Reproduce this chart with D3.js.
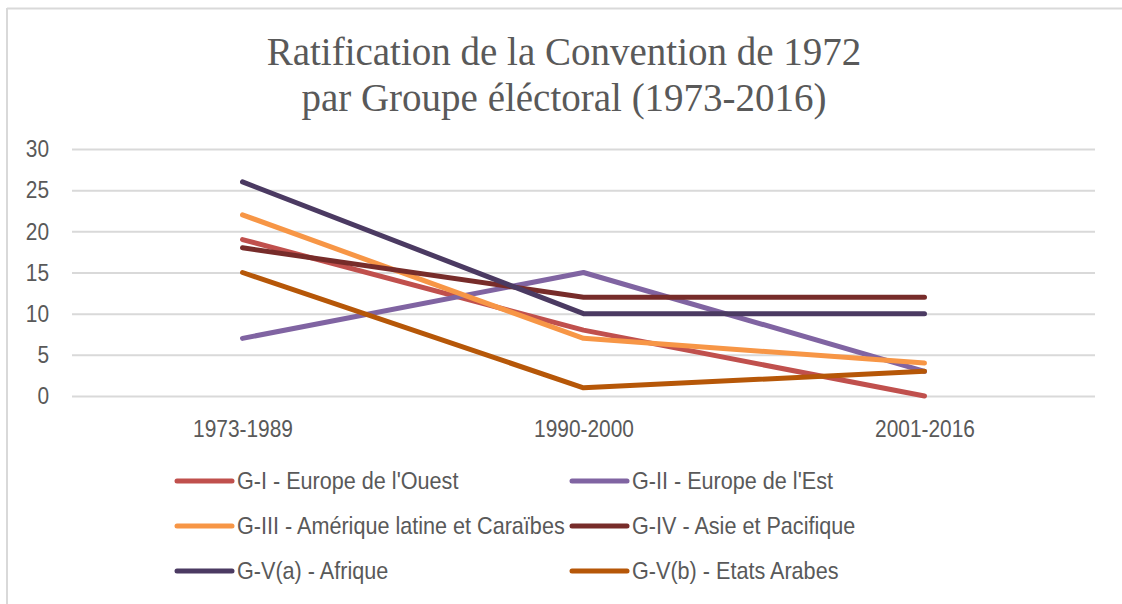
<!DOCTYPE html>
<html><head><meta charset="utf-8">
<script src="https://cdn.jsdelivr.net/npm/d3@7/dist/d3.min.js"></script>
<style>html,body{margin:0;padding:0;background:#fff;}svg{display:block;}</style>
</head><body>
<svg id="chart" width="1122" height="604"></svg>
<script>
const titleLines = ["Ratification de la Convention de 1972", "par Groupe éléctoral (1973-2016)"];
const categories = ["1973-1989", "1990-2000", "2001-2016"];
const seriesNames = ["G-I - Europe de l'Ouest", "G-II - Europe de l'Est", "G-III - Amérique latine et Caraïbes", "G-IV - Asie et Pacifique", "G-V(a) - Afrique", "G-V(b) - Etats Arabes"];
const seriesColors = ["#C0504D", "#8064A2", "#F79646", "#772C2A", "#4B3A62", "#B65708"];
const gI = [19, 8, 0];
const gII = [7, 15, 3];
const gIII = [22, 7, 4];
const gIV = [18, 12, 12];
const gVa = [26, 10, 10];
const gVb = [15, 1, 3];
const yTicks = [0, 5, 10, 15, 20, 25, 30];

const seriesValues = [gI, gII, gIII, gIV, gVa, gVb];
const series = seriesNames.map((n, i) => ({name: n, color: seriesColors[i], values: seriesValues[i]}));

const svg = d3.select("#chart");
const textColor = "#595959";
const sansFont = "'Liberation Sans', Arial, sans-serif";
const sansSize = 24;
const sx = 0.87;    // horizontal condensing of axis label text
const sxLeg = 0.9;  // horizontal condensing of legend text

// outer border (top and left visible)
svg.append("line").attr("x1", 7).attr("x2", 1122).attr("y1", 8.5).attr("y2", 8.5)
  .attr("stroke", "#d9d9d9").attr("stroke-width", 2);
svg.append("line").attr("x1", 7).attr("x2", 7).attr("y1", 8).attr("y2", 604)
  .attr("stroke", "#d9d9d9").attr("stroke-width", 2);

// title
const title = svg.append("text").attr("text-anchor", "middle")
  .attr("font-family", "'Liberation Serif', 'Times New Roman', serif")
  .attr("font-size", 39).attr("fill", textColor);
titleLines.forEach((t, i) => {
  title.append("tspan").attr("x", 564).attr("y", 65 + i * 46).text(t);
});

const x = d3.scalePoint().domain(categories).range([72, 1095]).padding(0.5);
const y = d3.scaleLinear().domain([0, 30]).range([396, 149]);

// gridlines + y labels
const yAxis = d3.axisLeft(y).tickValues(yTicks).tickSize(-(1095 - 72)).tickPadding(23);
const gy = svg.append("g").attr("transform", "translate(72,0)").call(yAxis);
gy.select(".domain").remove();
gy.selectAll(".tick line").attr("stroke", "#d9d9d9").attr("stroke-width", 2);
gy.selectAll(".tick text").attr("fill", textColor).attr("font-family", sansFont).attr("font-size", sansSize)
  .attr("x", -23 / sx).attr("transform", `scale(${sx},1)`);

// x axis labels
const xAxis = d3.axisBottom(x).tickSize(0).tickPadding(24);
const gx = svg.append("g").attr("transform", "translate(0,396)").call(xAxis);
gx.select(".domain").remove();
gx.selectAll(".tick text").attr("fill", textColor).attr("font-family", sansFont).attr("font-size", sansSize)
  .attr("transform", `scale(${sx},1)`);

// lines
const line = d3.line().x((d, i) => x(categories[i])).y(d => y(d));
svg.append("g").selectAll("path").data(series).join("path")
  .attr("d", d => line(d.values))
  .attr("fill", "none").attr("stroke", d => d.color)
  .attr("stroke-width", 5).attr("stroke-linecap", "round").attr("stroke-linejoin", "round");

// legend
const legX = [177, 572];
const legY = [481, 526, 571];
const leg = svg.append("g").selectAll("g").data(series).join("g")
  .attr("transform", (d, i) => `translate(${legX[i % 2]},${legY[Math.floor(i / 2)]})`);
leg.append("line").attr("x1", 0).attr("x2", 55).attr("y1", 0).attr("y2", 0)
  .attr("stroke", d => d.color).attr("stroke-width", 5).attr("stroke-linecap", "round");
leg.append("g").attr("transform", `translate(60,0) scale(${sxLeg},1)`)
  .append("text").attr("dy", "0.35em").attr("fill", textColor)
  .attr("font-family", sansFont).attr("font-size", sansSize).text(d => d.name);
</script>
</body></html>
